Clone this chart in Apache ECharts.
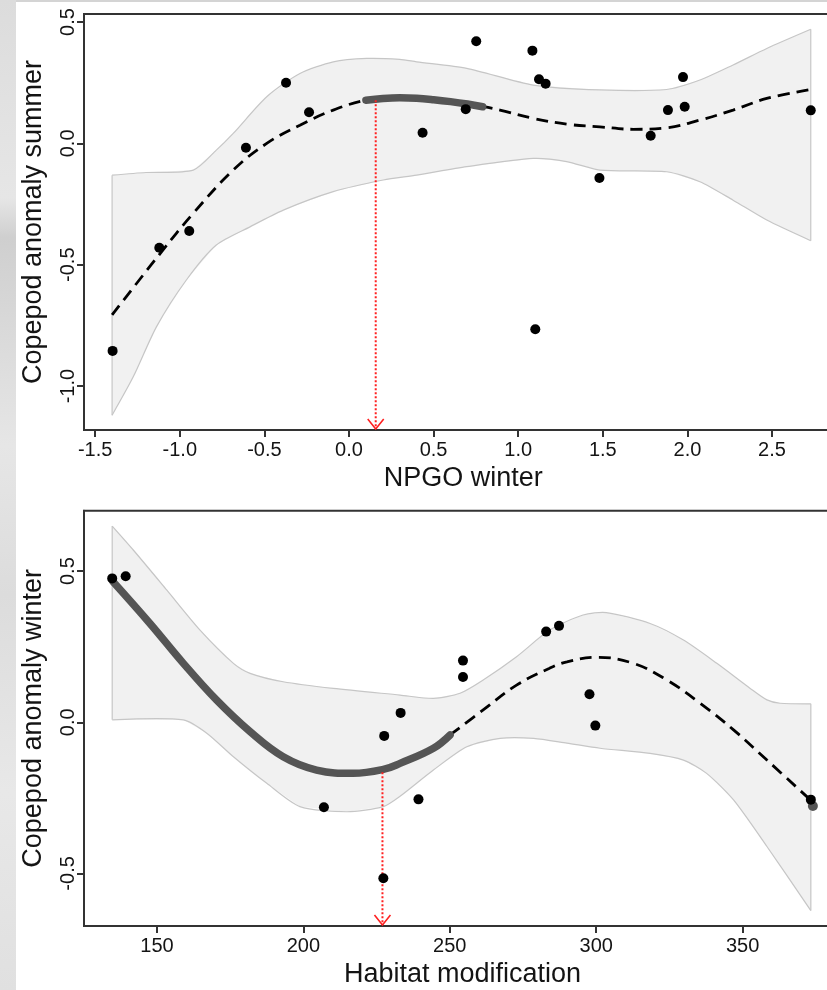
<!DOCTYPE html>
<html><head><meta charset="utf-8">
<script src="https://cdn.jsdelivr.net/npm/echarts@6/dist/echarts.min.js"></script>
<style>html,body{margin:0;padding:0;background:#fff;overflow:hidden;width:827px;height:990px}#c{width:870px;height:990px}</style>
</head><body><div id="c"></div>
<script>
// ---------- Top panel: NPGO winter vs Copepod anomaly summer ----------
const topTicksX = [-1.5, -1.0, -0.5, 0.0, 0.5, 1.0, 1.5, 2.0, 2.5];
const topTicksY = [-1.0, -0.5, 0.0, 0.5];
const topPoints = [
  [-1.397, -0.855], [-1.121, -0.430], [-0.944, -0.361], [-0.609, -0.018],
  [-0.372, 0.250], [-0.236, 0.128], [0.435, 0.044], [0.690, 0.141],
  [0.752, 0.421], [1.084, 0.382], [1.123, 0.264], [1.162, 0.246],
  [1.101, -0.766], [1.480, -0.143], [1.783, 0.031], [1.885, 0.137],
  [1.974, 0.273], [1.984, 0.151], [2.729, 0.136]
];
const topFit = [
  [-1.40, -0.707], [-1.115, -0.453], [-0.92, -0.288], [-0.684, -0.110],
  [-0.486, 0.0], [-0.29, 0.075], [-0.093, 0.137], [0.105, 0.178],
  [0.30, 0.188], [0.50, 0.180], [0.794, 0.151], [0.892, 0.137],
  [1.089, 0.103], [1.30, 0.078], [1.483, 0.068], [1.68, 0.058],
  [1.877, 0.064], [2.074, 0.096], [2.27, 0.137], [2.469, 0.185], [2.715, 0.220]
];
const topSig = [
  [0.10, 0.178], [0.20, 0.185], [0.30, 0.188], [0.40, 0.186],
  [0.50, 0.180], [0.60, 0.172], [0.70, 0.162], [0.79, 0.151]
];
const topUpper = [
  [-1.40, -0.131], [-1.20, -0.120], [-0.92, -0.110], [-0.784, -0.028],
  [-0.684, 0.041], [-0.486, 0.192], [-0.29, 0.288], [-0.093, 0.336],
  [0.105, 0.350], [0.30, 0.346], [0.40, 0.336], [0.696, 0.309],
  [1.089, 0.240], [1.483, 0.220], [1.877, 0.222], [2.074, 0.261],
  [2.27, 0.323], [2.469, 0.391], [2.729, 0.470]
];
const topLower = [
  [-1.40, -1.120], [-1.275, -0.962], [-1.138, -0.756], [-0.961, -0.563],
  [-0.784, -0.419], [-0.585, -0.344], [-0.388, -0.275], [-0.093, -0.199],
  [0.203, -0.151], [0.40, -0.131], [0.696, -0.096], [1.089, -0.062],
  [1.286, -0.075], [1.483, -0.110], [1.877, -0.117], [2.074, -0.158],
  [2.27, -0.234], [2.469, -0.316], [2.729, -0.401]
];
const topArrow = [0.158, 0.178];

// ---------- Bottom panel: Habitat modification vs Copepod anomaly winter ----------
const botTicksX = [150, 200, 250, 300, 350];
const botTicksY = [-0.5, 0.0, 0.5];
const botPoints = [
  [134.7, 0.476], [139.3, 0.483], [207.0, -0.281], [227.6, -0.045],
  [233.2, 0.031], [227.3, -0.516], [239.3, -0.255], [254.5, 0.204],
  [254.5, 0.150], [282.9, 0.300], [287.3, 0.319], [297.7, 0.093],
  [299.7, -0.011], [373.3, -0.256]
];
const botSig = [
  [135.0, 0.465], [147.6, 0.327], [159.0, 0.195], [170.3, 0.074],
  [181.8, -0.031], [193.1, -0.114], [204.5, -0.158], [217.0, -0.169],
  [227.3, -0.156], [233.0, -0.136], [244.4, -0.086], [250.1, -0.042]
];
const botSigEnd = [[374.0, -0.277]];
const botFit = [
  [250.1, -0.042], [261.4, 0.041], [272.8, 0.123], [284.1, 0.179],
  [290.0, 0.200], [300.2, 0.215], [312.7, 0.195], [324.1, 0.140],
  [335.5, 0.063], [346.9, -0.025], [358.3, -0.125], [372.5, -0.251]
];
const botUpper = [
  [134.7, 0.649], [141.9, 0.570], [153.3, 0.438], [164.7, 0.305],
  [176.1, 0.195], [181.8, 0.162], [193.1, 0.134], [210.2, 0.112],
  [233.0, 0.090], [244.4, 0.079], [253.5, 0.096], [261.4, 0.140],
  [272.8, 0.217], [284.1, 0.305], [295.5, 0.355], [303.5, 0.363],
  [318.4, 0.327], [329.8, 0.272], [341.2, 0.195], [352.6, 0.112],
  [358.3, 0.074], [362.8, 0.063], [373.3, 0.061]
];
const botLower = [
  [134.7, 0.008], [159.0, 0.008], [167.0, -0.036], [176.1, -0.114],
  [187.5, -0.202], [198.8, -0.279], [214.8, -0.296], [227.3, -0.279],
  [233.0, -0.245], [244.4, -0.158], [255.8, -0.081], [267.2, -0.053],
  [278.6, -0.053], [290.0, -0.069], [301.3, -0.086], [318.4, -0.103],
  [329.8, -0.125], [337.7, -0.169], [346.9, -0.257], [358.3, -0.411],
  [373.3, -0.623]
];
const botArrow = [227.0, -0.165];

// axis ranges (R style 4% expansion)
const topXRange = [-1.566, 2.916], topYRange = [-1.181, 0.533];
const botXRange = [125.07, 383.6], botYRange = [-0.674, 0.700];

const FONT = '"Liberation Sans", Arial, sans-serif';
const INK = '#141414';
const AX = '#333333';

function fmt1(v) { return (Math.abs(v) < 1e-9 ? 0 : v).toFixed(1); }
function fmt0(v) { return String(Math.round(v)); }

function xAxisCfg(gi, range, ticks, fmt, name) {
  return {
    type: 'value', gridIndex: gi, min: range[0], max: range[1],
    splitLine: { show: false },
    axisLine: { show: true, onZero: false, lineStyle: { color: AX, width: 2 } },
    axisTick: { show: true, customValues: ticks, length: 7, lineStyle: { color: AX, width: 2 } },
    axisLabel: { customValues: ticks, formatter: fmt, fontSize: 20, color: INK, fontFamily: FONT, margin: 10 },
    name: name, nameLocation: 'middle', nameGap: 35,
    nameTextStyle: { fontSize: 27, color: INK, fontFamily: FONT }
  };
}
function yAxisCfg(gi, range, ticks, name) {
  return {
    type: 'value', gridIndex: gi, min: range[0], max: range[1],
    splitLine: { show: false },
    axisLine: { show: true, onZero: false, lineStyle: { color: AX, width: 2 } },
    axisTick: { show: true, customValues: ticks, length: 7, lineStyle: { color: AX, width: 2 } },
    axisLabel: { customValues: ticks, formatter: fmt1, fontSize: 20, color: INK, fontFamily: FONT, margin: 6, rotate: 90 },
    name: name, nameLocation: 'middle', nameGap: 37, nameRotate: 90,
    nameTextStyle: { fontSize: 27, color: INK, fontFamily: FONT }
  };
}

function bandSeries(upper, lower, i) {
  return {
    type: 'custom', xAxisIndex: i, yAxisIndex: i, silent: true, z: 1,
    data: [upper[0]],
    renderItem: function (params, api) {
      const up = upper.map(p => api.coord(p));
      const lo = lower.map(p => api.coord(p));
      const poly = up.concat(lo.slice().reverse());
      const edge = { stroke: '#c6c6c6', lineWidth: 1.2, fill: null };
      return { type: 'group', children: [
        { type: 'polygon', shape: { points: poly }, style: { fill: '#f1f1f1', stroke: null } },
        { type: 'polyline', shape: { points: up, smooth: 0.25 }, style: edge },
        { type: 'polyline', shape: { points: lo, smooth: 0.25 }, style: edge },
        { type: 'line', shape: { x1: up[0][0], y1: up[0][1], x2: lo[0][0], y2: lo[0][1] }, style: edge },
        { type: 'line', shape: { x1: up[up.length - 1][0], y1: up[up.length - 1][1], x2: lo[lo.length - 1][0], y2: lo[lo.length - 1][1] }, style: edge }
      ] };
    }
  };
}
function arrowSeries(a, yBottom, i) {
  return {
    type: 'custom', xAxisIndex: i, yAxisIndex: i, silent: true, z: 6,
    data: [a],
    renderItem: function (params, api) {
      const p0 = api.coord([a[0], a[1]]);
      const p1 = api.coord([a[0], yBottom]);
      return { type: 'group', children: [
        { type: 'line', shape: { x1: p0[0], y1: p0[1], x2: p1[0], y2: p1[1] - 1 },
          style: { stroke: '#ff2020', lineWidth: 2, lineDash: [2, 2] } },
        { type: 'polyline', shape: { points: [[p1[0] - 8, p1[1] - 11], [p1[0], p1[1] - 1], [p1[0] + 8, p1[1] - 11]] },
          style: { stroke: '#ff2020', lineWidth: 1.6, fill: null } }
      ] };
    }
  };
}
function fitSeries(data, i) {
  return { type: 'line', xAxisIndex: i, yAxisIndex: i, data: data, smooth: 0.4, symbol: 'none', z: 3, silent: true,
    lineStyle: { color: '#000', width: 2.8, type: [12, 7] } };
}
function sigSeries(data, i) {
  return { type: 'line', xAxisIndex: i, yAxisIndex: i, data: data, smooth: 0.4, symbol: 'none', z: 4, silent: true,
    lineStyle: { color: '#555555', width: 7.5, cap: 'round' } };
}
function pointSeries(data, i, color, z) {
  return { type: 'scatter', xAxisIndex: i, yAxisIndex: i, data: data, symbol: 'circle', symbolSize: 10, z: z, silent: true,
    itemStyle: { color: color, opacity: 1 } };
}

const option = {
  animation: false,
  backgroundColor: '#ffffff',
  graphic: [
    { type: 'rect', left: 0, top: 0, shape: { width: 16, height: 990 }, z: -10,
      style: { fill: new echarts.graphic.LinearGradient(0, 0, 0, 1, [
        { offset: 0, color: '#dcdcdc' }, { offset: 0.2, color: '#e6e6e6' },
        { offset: 0.24, color: '#cfcfcf' }, { offset: 0.45, color: '#e6e6e6' },
        { offset: 0.6, color: '#dcdcdc' }, { offset: 0.8, color: '#e8e8e8' },
        { offset: 1, color: '#e0e0e0' }]) } },
    { type: 'rect', left: 16, top: 0, shape: { width: 860, height: 2 }, z: -10, style: { fill: '#d4d4d4' } }
  ],
  grid: [
    { left: 84, top: 14, width: 758.4, height: 416, show: true, borderColor: AX, borderWidth: 2, backgroundColor: 'transparent' },
    { left: 84, top: 510.7, width: 757, height: 415.3, show: true, borderColor: AX, borderWidth: 2, backgroundColor: 'transparent' }
  ],
  xAxis: [
    xAxisCfg(0, topXRange, topTicksX, fmt1, 'NPGO winter'),
    xAxisCfg(1, botXRange, botTicksX, fmt0, 'Habitat modification')
  ],
  yAxis: [
    yAxisCfg(0, topYRange, topTicksY, 'Copepod anomaly summer'),
    yAxisCfg(1, botYRange, botTicksY, 'Copepod anomaly winter')
  ],
  series: [
    bandSeries(topUpper, topLower, 0),
    fitSeries(topFit, 0),
    sigSeries(topSig, 0),
    arrowSeries(topArrow, topYRange[0], 0),
    pointSeries(topPoints, 0, '#000', 7),
    bandSeries(botUpper, botLower, 1),
    fitSeries(botFit, 1),
    sigSeries(botSig, 1),
    arrowSeries(botArrow, botYRange[0], 1),
    pointSeries(botSigEnd, 1, '#555555', 6),
    pointSeries(botPoints, 1, '#000', 7)
  ]
};
const chart = echarts.init(document.getElementById('c'), null, { renderer: 'canvas' });
chart.setOption(option);
</script></body></html>
